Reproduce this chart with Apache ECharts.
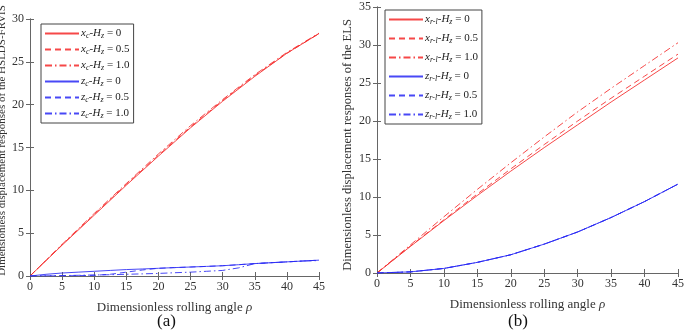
<!DOCTYPE html>
<html lang="en">
<head>
    <meta charset="UTF-8">
    <title>Dimensionless displacement responses</title>
    <script src="https://cdn.jsdelivr.net/npm/echarts@6/dist/echarts.min.js"></script>
    <style>
        body, html { margin: 0; padding: 0; width: 100%; height: 100%; background: #fff; overflow: hidden; }
        #chart { width: 685px; height: 332px; }
    </style>
</head>
<body>
    <div id="chart"></div>
    <script>
        // rolling angle samples
        var rho = [0, 5, 10, 15, 20, 25, 30, 35, 40, 45];
        var rhoFine = [0, 2.5, 5, 7.5, 10, 12.5, 15, 17.5, 20, 22.5, 25, 27.5, 30, 32.5, 35, 37.5, 40, 42.5, 45];

        // (a) HSLDS-FRVIS
        var xcH0  = [0, 3.6, 7.1, 10.6, 14.0, 17.3, 20.4, 23.3, 26.0, 28.3];
        var xcH05 = [0, 3.65, 7.2, 10.7, 14.1, 17.4, 20.5, 23.4, 26.0, 28.3];
        var xcH1  = [0, 3.7, 7.3, 10.8, 14.25, 17.55, 20.6, 23.5, 26.1, 28.35];
        var zcH0  = [0, 0.2, 0.35, 0.45, 0.55, 0.65, 0.75, 0.82, 0.9, 0.98, 1.05, 1.12, 1.2, 1.32, 1.45, 1.55, 1.65, 1.75, 1.85];
        var zcH05 = [0, 0.01, 0.02, 0.04, 0.08, 0.2, 0.45, 0.7, 0.9, 0.98, 1.05, 1.12, 1.2, 1.32, 1.45, 1.55, 1.65, 1.75, 1.85];
        var zcH1  = [0, 0.02, 0.05, 0.08, 0.12, 0.15, 0.2, 0.25, 0.3, 0.38, 0.45, 0.55, 0.65, 0.95, 1.45, 1.55, 1.65, 1.75, 1.8];

        // (b) ELS
        var xrH0  = [0, 3.5, 6.9, 10.2, 13.4, 16.5, 19.5, 22.5, 25.4, 28.3];
        var xrH05 = [0, 3.55, 7.0, 10.4, 13.7, 16.9, 20.0, 23.0, 25.9, 28.8];
        var xrH1  = [0, 3.7, 7.4, 11.0, 14.5, 17.9, 21.2, 24.3, 27.3, 30.3];
        var zrH0  = [0, 0.15, 0.6, 1.4, 2.4, 3.8, 5.4, 7.3, 9.4, 11.7];
        var zrH05 = [0, 0.15, 0.6, 1.4, 2.4, 3.8, 5.4, 7.3, 9.4, 11.7];
        var zrH1  = [0, 0.15, 0.6, 1.4, 2.4, 3.8, 5.4, 7.3, 9.4, 11.7];

        var xTicks = [0, 45, 5];
        var yTicksA = [0, 30, 5];
        var yTicksB = [0, 35, 5];

        var FONT = '"Liberation Serif", "DejaVu Serif", serif';
        var RED = 'rgba(245, 40, 40, 0.85)';
        var BLUE = 'rgba(40, 40, 245, 0.85)';
        var DASH = [6, 4];
        var DASHDOT = [7, 3, 1.5, 3];

        function zip(xs, ys) {
            return xs.map(function (x, i) { return [x, ys[i]]; });
        }

        // legend label with italic letters and subscripts
        var rich = {
            i: { fontFamily: FONT, fontStyle: 'italic', fontSize: 11, color: '#222', lineHeight: 11 },
            s: { fontFamily: FONT, fontStyle: 'italic', fontSize: 8, color: '#222', padding: [5, 0, 0, 0], lineHeight: 11 },
            n: { fontFamily: FONT, fontSize: 11, color: '#222', lineHeight: 11 }
        };
        var labels = {
            'xc0': '{i|x}{s|c}{n|-}{i|H}{s|z}{n| = 0}',
            'xc05': '{i|x}{s|c}{n|-}{i|H}{s|z}{n| = 0.5}',
            'xc1': '{i|x}{s|c}{n|-}{i|H}{s|z}{n| = 1.0}',
            'zc0': '{i|z}{s|c}{n|-}{i|H}{s|z}{n| = 0}',
            'zc05': '{i|z}{s|c}{n|-}{i|H}{s|z}{n| = 0.5}',
            'zc1': '{i|z}{s|c}{n|-}{i|H}{s|z}{n| = 1.0}',
            'xr0': '{i|x}{s|r-l}{n|-}{i|H}{s|z}{n| = 0}',
            'xr05': '{i|x}{s|r-l}{n|-}{i|H}{s|z}{n| = 0.5}',
            'xr1': '{i|x}{s|r-l}{n|-}{i|H}{s|z}{n| = 1.0}',
            'zr0': '{i|z}{s|r-l}{n|-}{i|H}{s|z}{n| = 0}',
            'zr05': '{i|z}{s|r-l}{n|-}{i|H}{s|z}{n| = 0.5}',
            'zr1': '{i|z}{s|r-l}{n|-}{i|H}{s|z}{n| = 1.0}'
        };

        function mainX(gi) {
            return {
                type: 'value', gridIndex: gi, min: xTicks[0], max: xTicks[1], interval: xTicks[2],
                name: 'Dimensionless rolling angle {r|ρ}', nameLocation: 'middle', nameGap: 25,
                nameTextStyle: { fontFamily: FONT, fontSize: 13, color: '#333',
                    rich: { r: { fontFamily: FONT, fontStyle: 'italic', fontSize: 13, color: '#333' } } },
                axisLine: { lineStyle: { color: '#666', width: 1 } },
                axisTick: { inside: true, length: 4, lineStyle: { color: '#666' } },
                axisLabel: { fontFamily: FONT, fontSize: 12, color: '#333', margin: 5 },
                splitLine: { show: false }
            };
        }
        function boxX(gi) {
            return {
                type: 'value', gridIndex: gi, position: 'top', min: xTicks[0], max: xTicks[1], interval: xTicks[2],
                axisLine: { lineStyle: { color: '#666', width: 1 } },
                axisTick: { inside: true, length: 4, lineStyle: { color: '#666' } },
                axisLabel: { show: false }, splitLine: { show: false }
            };
        }
        function mainY(gi, ticks, name, gap, size, pad) {
            return {
                type: 'value', gridIndex: gi, min: ticks[0], max: ticks[1], interval: ticks[2],
                name: name, nameLocation: 'middle', nameGap: gap,
                nameTextStyle: { fontFamily: FONT, fontSize: size, color: '#333', padding: pad },
                axisLine: { show: true, lineStyle: { color: '#666', width: 1 } },
                axisTick: { show: true, inside: true, length: 4, lineStyle: { color: '#666' } },
                axisLabel: { fontFamily: FONT, fontSize: 12, color: '#333', margin: 6 },
                splitLine: { show: false }
            };
        }
        function boxY(gi, ticks) {
            return {
                type: 'value', gridIndex: gi, position: 'right', min: ticks[0], max: ticks[1], interval: ticks[2],
                axisLine: { show: true, lineStyle: { color: '#666', width: 1 } },
                axisTick: { show: true, inside: true, length: 4, lineStyle: { color: '#666' } },
                axisLabel: { show: false }, splitLine: { show: false }
            };
        }
        function line(name, gi, xs, ys, color, type) {
            return {
                name: name, type: 'line', xAxisIndex: gi * 2, yAxisIndex: gi * 2,
                data: zip(xs, ys), showSymbol: false, symbol: 'none', smooth: false,
                lineStyle: { color: color, width: 1, type: type },
                itemStyle: { color: color },
                animation: false
            };
        }
        function legend(names, left, top, gap) {
            return {
                data: names, left: left, top: top, orient: 'vertical',
                itemWidth: 34, itemHeight: 10, itemGap: gap,
                padding: [3, 4, 3, 3],
                backgroundColor: '#fff', borderColor: '#444', borderWidth: 1,
                itemStyle: { opacity: 0 },
                formatter: function (n) { return labels[n]; },
                textStyle: { fontFamily: FONT, fontSize: 11, color: '#222', rich: rich, padding: [0, 0, 0, -3] }
            };
        }

        var option = {
            backgroundColor: '#fff',
            animation: false,
            title: [
                { text: '(a)', left: 152, top: 308, textStyle: { fontFamily: FONT, fontSize: 17, fontWeight: 'normal', color: '#111' } },
                { text: '(b)', left: 503, top: 308, textStyle: { fontFamily: FONT, fontSize: 17, fontWeight: 'normal', color: '#111' } }
            ],
            grid: [
                { left: 30, right: 366, top: 19, bottom: 56, outerBoundsMode: 'none' },
                { left: 377, right: 7, top: 7, bottom: 59, outerBoundsMode: 'none' }
            ],
            xAxis: [mainX(0), boxX(0), mainX(1), boxX(1)],
            yAxis: [
                mainY(0, yTicksA, 'Dimensionless displacement responses of the HSLDS-FRVIS', 21, 11, [0, 0, 0, 14]),
                boxY(0, yTicksA),
                mainY(1, yTicksB, 'Dimensionless displacement responses of the ELS', 23, 12.5, [0, 10, 0, 0]),
                boxY(1, yTicksB)
            ],
            legend: [
                legend(['xc0', 'xc05', 'xc1', 'zc0', 'zc05', 'zc1'], 41, 24, 3),
                legend(['xr0', 'xr05', 'xr1', 'zr0', 'zr05', 'zr1'], 385, 10, 6)
            ],
            series: [
                line('xc0', 0, rho, xcH0, RED, 'solid'),
                line('xc05', 0, rho, xcH05, RED, DASH),
                line('xc1', 0, rho, xcH1, RED, DASHDOT),
                line('zc0', 0, rhoFine, zcH0, BLUE, 'solid'),
                line('zc05', 0, rhoFine, zcH05, BLUE, DASH),
                line('zc1', 0, rhoFine, zcH1, BLUE, DASHDOT),
                line('xr0', 1, rho, xrH0, RED, 'solid'),
                line('xr05', 1, rho, xrH05, RED, DASH),
                line('xr1', 1, rho, xrH1, RED, DASHDOT),
                line('zr0', 1, rho, zrH0, BLUE, 'solid'),
                line('zr05', 1, rho, zrH05, BLUE, DASH),
                line('zr1', 1, rho, zrH1, BLUE, DASHDOT)
            ]
        };

        var chart = echarts.init(document.getElementById('chart'));
        chart.setOption(option);
    </script>
</body>
</html>
